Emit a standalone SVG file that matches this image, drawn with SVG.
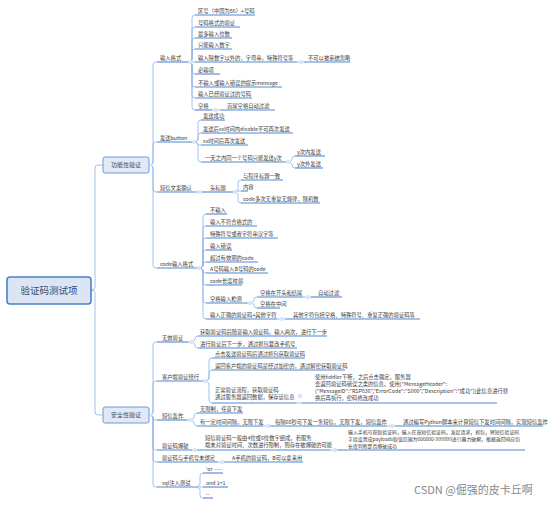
<svg xmlns="http://www.w3.org/2000/svg" width="554" height="505" viewBox="0 0 554 505">
<style>
.t{font-family:"Noto Sans CJK SC","Noto Sans",sans-serif;font-size:5.3px;fill:#3a3a3a}
.u{stroke:#4e87d6;stroke-width:1.1;fill:none}
.c{stroke:#8db3e6;stroke-width:0.8;fill:none}
.d{fill:#dde5f1}
.b1{fill:#e1e9f5;stroke:#6d9bda;stroke-width:1}
.l1{font-family:"Noto Sans CJK SC","Noto Sans",sans-serif;font-size:6px;fill:#3f4f66}
</style>
<rect width="554" height="505" fill="#ffffff"/>
<g id="connectors">
<path class="c" d="M91,290 Q95,290 95,287 V168 Q95,165 98,165 H103"/>
<path class="c" d="M91,290 Q95,290 95,293 V412 Q95,415 98,415 H103"/>
<path class="c" d="M149,165 Q153,165 153,162 V65 Q153,62 156,62 H157"/>
<path class="c" d="M149,165 Q153,165 153,162 V145 Q153,142 156,142 H157"/>
<path class="c" d="M149,165 Q153,165 153,168 V189 Q153,192 156,192 H157"/>
<path class="c" d="M149,165 Q153,165 153,168 V265 Q153,268 156,268 H157"/>
<path class="c" d="M187,62 Q192,62 192,59 V18 Q192,15 195,15"/>
<path class="c" d="M187,62 Q192,62 192,59 V30 Q192,27 195,27"/>
<path class="c" d="M187,62 Q192,62 192,59 V41 Q192,38 195,38"/>
<path class="c" d="M187,62 Q192,62 192,59 V52 Q192,49 195,49"/>
<path class="c" d="M187,62 H195"/>
<path class="c" d="M187,62 Q192,62 192,65 V71 Q192,74 195,74"/>
<path class="c" d="M187,62 Q192,62 192,65 V84 Q192,87 195,87"/>
<path class="c" d="M187,62 Q192,62 192,65 V95 Q192,98 195,98"/>
<path class="c" d="M187,62 Q192,62 192,65 V107 Q192,110 195,110"/>
<path class="c" d="M297,62 H304"/>
<path class="c" d="M212,110 H220"/>
<path class="c" d="M192,142 Q198,142 198,139 V123 Q198,120 201,120"/>
<path class="c" d="M192,142 Q198,142 198,139 V136 Q198,133 201,133"/>
<path class="c" d="M192,142 Q198,142 198,145 H201"/>
<path class="c" d="M192,142 Q198,142 198,145 V159 Q198,162 201,162"/>
<path class="c" d="M285,162 Q292,162 292,159 Q292,156 295,156"/>
<path class="c" d="M285,162 Q292,162 292,165 Q292,168 295,168"/>
<path class="c" d="M197,192 H202"/>
<path class="c" d="M232,192 Q238,192 238,189 V183 Q238,180 241,180"/>
<path class="c" d="M232,192 Q238,192 238,191 H241"/>
<path class="c" d="M232,192 Q238,192 238,195 V200 Q238,203 241,203"/>
<path class="c" d="M197,268 Q203,268 203,265 V217 Q203,214 206,214"/>
<path class="c" d="M197,268 Q203,268 203,265 V229 Q203,226 206,226"/>
<path class="c" d="M197,268 Q203,268 203,265 V241 Q203,238 206,238"/>
<path class="c" d="M197,268 Q203,268 203,265 V253 Q203,250 206,250"/>
<path class="c" d="M197,268 Q203,268 203,265 Q203,262 206,262"/>
<path class="c" d="M197,268 Q203,268 203,271 Q203,273 206,273"/>
<path class="c" d="M197,268 Q203,268 203,271 V282 Q203,285 206,285"/>
<path class="c" d="M197,268 Q203,268 203,271 V300 Q203,303 206,303"/>
<path class="c" d="M197,268 Q203,268 203,271 V316 Q203,319 206,319"/>
<path class="c" d="M247,303 Q254,303 254,300 Q254,297 257,297"/>
<path class="c" d="M247,303 Q254,303 254,305 Q254,308 257,308"/>
<path class="c" d="M303,297 H311"/>
<path class="c" d="M277,319 H285"/>
<path class="c" d="M149,415 Q153,415 153,412 V345 Q153,342 156,342 H157"/>
<path class="c" d="M149,415 Q153,415 153,412 V384 Q153,381 156,381 H157"/>
<path class="c" d="M149,415 Q153,415 153,418 Q153,420 156,420 H157"/>
<path class="c" d="M149,415 Q153,415 153,418 V447 Q153,450 156,450 H157"/>
<path class="c" d="M149,415 Q153,415 153,418 V459 Q153,462 156,462 H157"/>
<path class="c" d="M149,415 Q153,415 153,418 V484 Q153,487 156,487 H157"/>
<path class="c" d="M188,342 Q195,342 195,339 Q195,336 198,336"/>
<path class="c" d="M188,342 Q195,342 195,345 Q195,348 198,348"/>
<path class="c" d="M202,381 Q209,381 209,378 V361 Q209,358 212,358"/>
<path class="c" d="M202,381 Q209,381 209,378 V373 Q209,370 212,370"/>
<path class="c" d="M202,381 Q209,381 209,384 V400 Q209,403 212,403"/>
<path class="c" d="M296,403 H302"/>
<path class="c" d="M187,420 Q194,420 194,417 Q194,413 197,413"/>
<path class="c" d="M187,420 Q194,420 194,423 Q194,426 197,426"/>
<path class="c" d="M263,426 H270"/>
<path class="c" d="M387,426 H395"/>
<path class="c" d="M192,450 H197"/>
<path class="c" d="M330,450 H337"/>
<path class="c" d="M218,462 H224"/>
<path class="c" d="M192,487 Q200,487 200,484 V476 Q200,473 203,473"/>
<path class="c" d="M192,487 H203"/>
<path class="c" d="M192,487 Q200,487 200,490 V495 Q200,498 203,498"/>
</g>
<g id="root">
<rect x="7" y="277" width="84" height="27" rx="3" fill="#dbe5f3" stroke="#4b80cc" stroke-width="1.6"/>
<text x="49" y="294" text-anchor="middle" font-family="'Noto Sans CJK SC',sans-serif" font-size="9.5" fill="#2f4a73">验证码测试项</text>
</g>
<g id="func">
<rect class="b1" x="103" y="157" width="46" height="16" rx="2"/>
<text class="l1" x="126" y="167.2" text-anchor="middle">功能性验证</text>
<circle class="d" cx="151" cy="165" r="1.8"/>
</g>
<g id="sec">
<rect class="b1" x="103" y="407" width="46" height="16" rx="2"/>
<text class="l1" x="126" y="417.2" text-anchor="middle">安全性验证</text>
<circle class="d" cx="151" cy="415" r="1.8"/>
</g>
<g id="n-input">
<text class="t" x="160" y="59.7">输入格式</text><path class="u" d="M157,62 H187"/><circle class="d" cx="190" cy="62" r="2.2"/>
</g>
<g id="n-i1"><text class="t" x="198" y="12.7">区号（中国为86）+号码</text><path class="u" d="M195,15 H255"/></g>
<g id="n-i2"><text class="t" x="198" y="24.7">号码格式的验证</text><path class="u" d="M195,27 H240"/></g>
<g id="n-i3"><text class="t" x="198" y="35.7">最多输入位数</text><path class="u" d="M195,38 H232"/></g>
<g id="n-i4"><text class="t" x="198" y="46.7">只能输入数字</text><path class="u" d="M195,49 H232"/></g>
<g id="n-i5"><text class="t" x="198" y="59.7">输入除数字以外的，字母串，特殊符号等</text><path class="u" d="M195,62 H297"/><circle class="d" cx="301" cy="62" r="2.2"/></g>
<g id="n-i5a"><text class="t" x="308" y="59.7">不可以被系统忽略</text><path class="u" d="M304,62 H350"/></g>
<g id="n-i6"><text class="t" x="198" y="71.7">必输项</text><path class="u" d="M195,74 H220"/></g>
<g id="n-i7"><text class="t" x="198" y="84.7">不输入或输入错误的提示message</text><path class="u" d="M195,87 H282"/></g>
<g id="n-i8"><text class="t" x="198" y="95.7">输入已经验证过的号码</text><path class="u" d="M195,98 H252"/></g>
<g id="n-i9"><text class="t" x="198" y="107.7">空格</text><path class="u" d="M195,110 H212"/><circle class="d" cx="216" cy="110" r="2.2"/></g>
<g id="n-i9a"><text class="t" x="227" y="107.7">首尾空格自动过滤</text><path class="u" d="M220,110 H275"/></g>
<g id="n-send">
<text class="t" x="160" y="139.7">发送button</text><path class="u" d="M157,142 H192"/><circle class="d" cx="194" cy="142" r="2.2"/>
</g>
<g id="n-s1"><text class="t" x="203" y="117.7">发送成功</text><path class="u" d="M201,120 H225"/></g>
<g id="n-s2"><text class="t" x="203" y="130.7">发送后xx时间内disable不可再次发送</text><path class="u" d="M201,133 H293"/></g>
<g id="n-s3"><text class="t" x="203" y="142.7">xx时间后再次发送</text><path class="u" d="M201,145 H248"/></g>
<g id="n-s4"><text class="t" x="205" y="159.7">一天之内同一个号码只能发送y次</text><path class="u" d="M201,162 H285"/><circle class="d" cx="288" cy="162" r="2.2"/></g>
<g id="n-s4a"><text class="t" x="297" y="153.7">y次内发送</text><path class="u" d="M295,156 H325"/></g>
<g id="n-s4b"><text class="t" x="297" y="165.7">y次外发送</text><path class="u" d="M295,168 H323"/></g>
<g id="n-sms">
<text class="t" x="160" y="189.7">短信文案确认</text><path class="u" d="M157,192 H197"/><circle class="d" cx="199.5" cy="192" r="2.2"/>
</g>
<g id="n-m1"><text class="t" x="210" y="189.7">头标题</text><path class="u" d="M202,192 H232"/><circle class="d" cx="235" cy="192" r="2.2"/></g>
<g id="n-m1a"><text class="t" x="243" y="177.7">与程序标题一致</text><path class="u" d="M241,180 H283"/></g>
<g id="n-m1b"><text class="t" x="243" y="188.7">内容</text><path class="u" d="M241,191 H248"/></g>
<g id="n-m1c"><text class="t" x="243" y="200.7">code多次无重复无规律，随机数</text><path class="u" d="M241,203 H320"/></g>
<g id="n-code">
<text class="t" x="160" y="265.7">code输入格式</text><path class="u" d="M157,268 H197"/><circle class="d" cx="199" cy="268" r="2.2"/>
</g>
<g id="n-c1"><text class="t" x="210" y="211.7">不输入</text><path class="u" d="M206,214 H227"/></g>
<g id="n-c2"><text class="t" x="210" y="223.7">输入不符合格式的</text><path class="u" d="M206,226 H257"/></g>
<g id="n-c3"><text class="t" x="210" y="235.7">特殊符号或者字符串汉字等</text><path class="u" d="M206,238 H278"/></g>
<g id="n-c4"><text class="t" x="210" y="247.7">输入错误</text><path class="u" d="M206,250 H232"/></g>
<g id="n-c5"><text class="t" x="210" y="259.7">超过有效期的code</text><path class="u" d="M206,262 H258"/></g>
<g id="n-c6"><text class="t" x="210" y="270.7">A号码输入B号码的code</text><path class="u" d="M206,273 H268"/></g>
<g id="n-c7"><text class="t" x="210" y="282.7">code长度校验</text><path class="u" d="M206,285 H242"/></g>
<g id="n-c8"><text class="t" x="210" y="300.7">空格输入检测</text><path class="u" d="M206,303 H247"/><circle class="d" cx="250" cy="303" r="2.2"/></g>
<g id="n-c8a"><text class="t" x="260" y="294.7">空格在开头和结尾</text><path class="u" d="M257,297 H303"/><circle class="d" cx="308" cy="297" r="2.2"/></g>
<g id="n-c8a1"><text class="t" x="318" y="294.7">自动过滤</text><path class="u" d="M311,297 H342"/></g>
<g id="n-c8b"><text class="t" x="260" y="305.7">空格在中间</text><path class="u" d="M257,308 H280"/></g>
<g id="n-c9"><text class="t" x="210" y="316.7">输入正确的验证码+其他字符</text><path class="u" d="M206,319 H277"/><circle class="d" cx="282" cy="319" r="2.2"/></g>
<g id="n-c9a"><text class="t" x="293" y="316.7">其他字符包括空格、特殊符号、重复正确的验证码等</text><path class="u" d="M285,319 H420"/></g>
<g id="n-inv">
<text class="t" x="162" y="339.7">无效验证</text><path class="u" d="M157,342 H188"/><circle class="d" cx="191" cy="342" r="2.2"/>
</g>
<g id="n-v1"><text class="t" x="200" y="333.7">获取验证码后随意输入验证码，输入两次，进行下一步</text><path class="u" d="M198,336 H327"/></g>
<g id="n-v2"><text class="t" x="200" y="345.7">进行验证后下一步，通过抓包篡改手机号</text><path class="u" d="M198,348 H297"/></g>
<g id="n-client">
<text class="t" x="162" y="378.7">客户端验证绕行</text><path class="u" d="M157,381 H202"/><circle class="d" cx="205" cy="381" r="2.2"/>
</g>
<g id="n-k1"><text class="t" x="215" y="355.7">点击发送验证码后通过抓包获取验证码</text><path class="u" d="M212,358 H305"/></g>
<g id="n-k2"><text class="t" x="215" y="367.7">返回客户端的验证码是经过加密的，通过解密获取验证码</text><path class="u" d="M212,370 H345"/></g>
<g id="n-k3"><text class="t" x="215" y="391.5">正常验证流程，获取验证码</text><text class="t" x="215" y="398.8">通过服务器返回数据，保存该信息</text><path class="u" d="M212,403 H296"/><circle class="d" cx="300" cy="396" r="2.2"/></g>
<g id="n-k3a"><text class="t" x="315" y="379">使用fiddler下断，之后点击确定，服务器</text><text class="t" x="315" y="385.5">会返回验证码错误之类的信息，使用{"MessageHeader":</text><text class="t" x="315" y="393">{"MessageID":"RSP036","ErrorCode":"S000","Description":"成功"}}此信息进行替</text><text class="t" x="315" y="399.5">换后再执行，密码修改成功</text><path class="u" d="M302,403 H497"/></g>
<g id="n-bomb">
<text class="t" x="162" y="417.7">短信轰炸</text><path class="u" d="M157,420 H187"/><circle class="d" cx="190" cy="420" r="2.2"/>
</g>
<g id="n-b1"><text class="t" x="200" y="410.7">无限制，任意下发</text><path class="u" d="M197,413 H243"/></g>
<g id="n-b2"><text class="t" x="200" y="423.7">有一定时间间隔，无限下发</text><path class="u" d="M197,426 H263"/><circle class="d" cx="268" cy="426" r="2.2"/></g>
<g id="n-b2a"><text class="t" x="275" y="423.7">每隔60秒可下发一条短信，无限下发，短信轰炸</text><path class="u" d="M270,426 H387"/><circle class="d" cx="392" cy="426" r="2.2"/></g>
<g id="n-b2b"><text class="t" x="403" y="423.7">通过编写Python脚本来计算短信下发时间间隔，实现短信轰炸</text><path class="u" d="M395,426 H543"/></g>
<g id="n-brute">
<text class="t" x="162" y="447.7">验证码爆破</text><path class="u" d="M157,450 H192"/><circle class="d" cx="195" cy="450" r="2.2"/>
</g>
<g id="n-r1"><text class="t" x="205" y="440">短信验证码一般由4位或6位数字组成，若服务</text><text class="t" x="205" y="447">端未对验证时间、次数进行限制，则存在被爆破的可能</text><path class="u" d="M197,450 H330"/><circle class="d" cx="335" cy="450" r="2.2"/></g>
<g id="n-r1a" font-size="4.9px"><text class="t" x="348" y="433.5" style="font-size:4.9px">输入手机号获取验证码，输入任意短信验证码，发起请求，抓包，将短信验证码</text><text class="t" x="348" y="440.5" style="font-size:4.9px">字段设置成payloads取值范围为000000-999999进行暴力破解，根据返回响应包</text><text class="t" x="348" y="447.5" style="font-size:4.9px">长度判断是否爆破成功</text><path class="u" d="M337,450 H525"/></g>
<g id="n-bind">
<text class="t" x="162" y="459.7">验证码与手机号未绑定</text><path class="u" d="M157,462 H218"/><circle class="d" cx="222" cy="462" r="2.2"/>
</g>
<g id="n-bd1"><text class="t" x="232" y="459.7">A手机的验证码，B可以拿来用</text><path class="u" d="M224,462 H303"/></g>
<g id="n-sql">
<text class="t" x="162" y="484.7">sql注入测试</text><path class="u" d="M157,487 H192"/>
</g>
<g id="n-q1"><text class="t" x="206" y="470.7">'or ——</text><path class="u" d="M203,473 H223"/></g>
<g id="n-q2"><text class="t" x="206" y="484.7">and 1=1</text><path class="u" d="M203,487 H228"/></g>
<g id="n-q3"><text class="t" x="206" y="495.7">--</text><path class="u" d="M203,498 H213"/></g>
<text x="414" y="494" font-family="'Noto Sans CJK SC','Noto Sans',sans-serif" font-size="11" fill="#8a8a8a">CSDN @倔强的皮卡丘啊</text>
</svg>
